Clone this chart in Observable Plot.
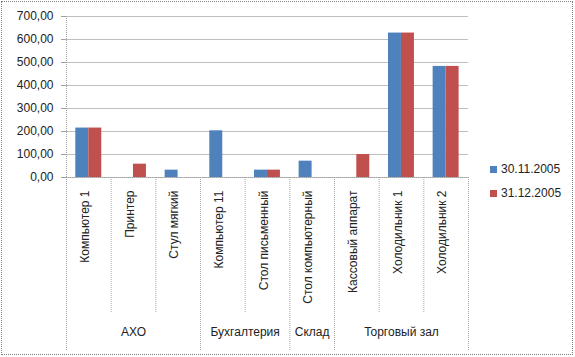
<!DOCTYPE html>
<html><head><meta charset="utf-8">
<script src="https://cdn.jsdelivr.net/npm/d3@7"></script>
<script src="https://cdn.jsdelivr.net/npm/@observablehq/plot@0.6"></script>
<style>
body{margin:0;background:#fff;}
#wrap{position:relative;width:575px;height:357px;font-family:"Liberation Sans",sans-serif;}
#border{position:absolute;left:1px;top:1px;width:570px;height:352px;border:1px dotted #7f7f7f;pointer-events:none;}
#legend{position:absolute;left:490px;top:157px;font-size:12px;color:#222;}
#legend div{height:24px;display:flex;align-items:center;}
#legend span.sw{display:inline-block;width:7px;height:7px;margin-right:4px;}
</style></head>
<body><div id="wrap"><div id="border"></div></div>
<script>
const items = ["Компьютер 1","Принтер","Стул мягкий","Компьютер 11","Стол письменный","Стол компьютерный","Кассовый аппарат","Холодильник 1","Холодильник 2"];
const groupNames = ["АХО","Бухгалтерия","Склад","Торговый зал"];
const groupSizes = [3,2,1,3];
const seriesNames = ["30.11.2005","31.12.2005"];
const values1 = [215, null, 32, 203, 32, 71, null, 628, 483];
const values2 = [215, 58, null, null, 32, null, 100, 628, 483];
const colors = ["#4f81bd","#c0504d"];
const yTicks = [0,100,200,300,400,500,600,700];

const rows1 = items.map((name,i)=>({i,name,series:seriesNames[0],value:values1[i]})).filter(d=>d.value!=null);
const rows2 = items.map((name,i)=>({i,name,series:seriesNames[1],value:values2[i]})).filter(d=>d.value!=null);

const groupBounds = [0];
groupSizes.forEach(s=>groupBounds.push(groupBounds[groupBounds.length-1]+s));
const itemBounds = d3.range(1, items.length).filter(b=>!groupBounds.includes(b));
const groups = groupNames.map((g,k)=>({name:g, start:groupBounds[k], end:groupBounds[k+1]}));
const fmt = d => d.toFixed(2).replace(".", ",");

const chart = Plot.plot({
  width: 575, height: 357,
  marginLeft: 66, marginRight: 107, marginTop: 16, marginBottom: 180,
  style: {fontFamily: "Liberation Sans, sans-serif", fontSize: "12px", color: "#222", background: "transparent"},
  x: {type: "linear", domain: [0, items.length]},
  y: {domain: [0, 700]},
  color: {domain: seriesNames, range: colors},
  marks: [
    Plot.gridY({ticks: yTicks, stroke: "#bfbfbf", strokeOpacity: 1}),
    Plot.axisY({ticks: yTicks, tickFormat: fmt, tickSize: 5, tickPadding: 8, stroke: "#a0a0a0", label: null}),
    Plot.ruleX([0], {stroke: "#a0a0a0", strokeDasharray: "1,1"}),
    Plot.rectY(rows1, {x1: "i", x2: d=>d.i+1, y: "value", fill: "series", insetLeft: 9.3, insetRight: 22.4}),
    Plot.rectY(rows2, {x1: "i", x2: d=>d.i+1, y: "value", fill: "series", insetLeft: 22.3, insetRight: 9.4}),
    Plot.ruleY([0], {stroke: "#a0a0a0", strokeDasharray: "1,1"}),
    Plot.axisX({ticks: itemBounds, tickSize: 136, tickFormat: () => "", stroke: "#a8a8a8", strokeDasharray: "1,1", label: null}),
    Plot.axisX({ticks: groupBounds, tickSize: 173, tickFormat: () => "", stroke: "#a8a8a8", strokeDasharray: "1,1", label: null}),
    Plot.text(items, {x: (d,i)=>i+0.5, text: d=>d, frameAnchor: "bottom", rotate: -90, textAnchor: "end", dy: 13, fill: "#222"}),
    Plot.text(groups, {x: d=>(d.start+d.end)/2, text: "name", frameAnchor: "bottom", dy: 158, fill: "#222"})
  ]
});
const wrap = document.getElementById("wrap");
wrap.insertBefore(chart, wrap.firstChild);
const legend = document.createElement("div");
legend.id = "legend";
seriesNames.forEach((s,k)=>{
  const row = document.createElement("div");
  row.innerHTML = `<span class="sw" style="background:${colors[k]}"></span>${s}`;
  legend.appendChild(row);
});
wrap.appendChild(legend);
</script></body></html>
